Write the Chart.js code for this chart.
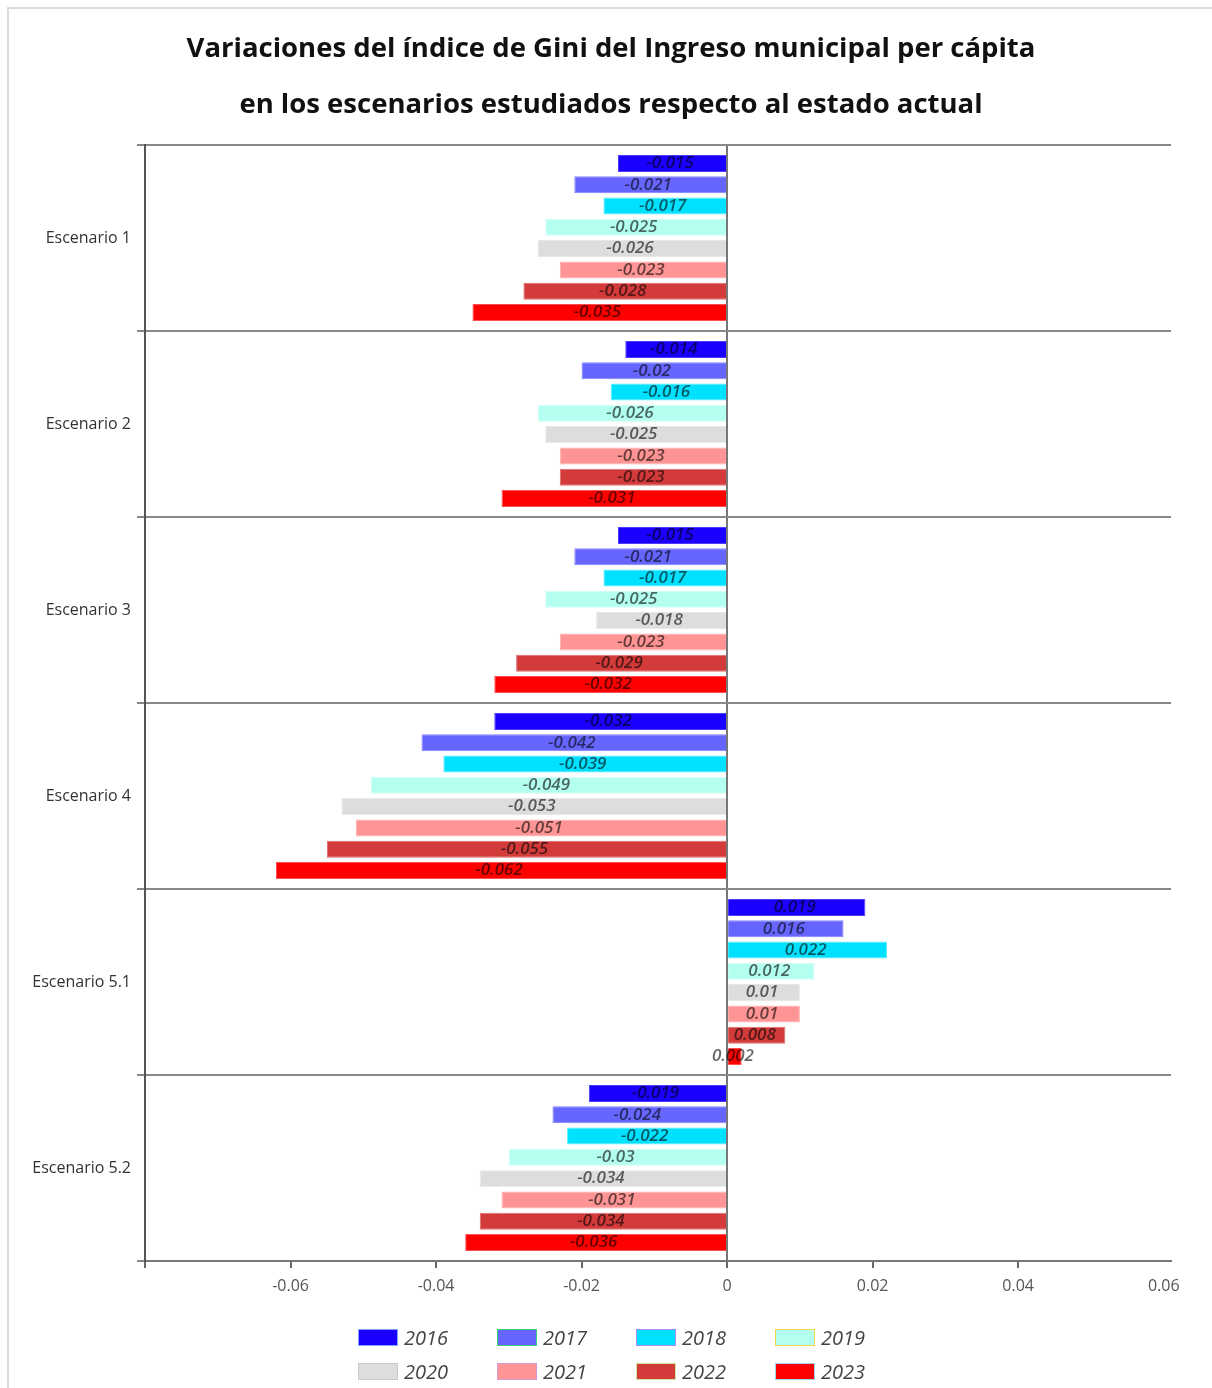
<!DOCTYPE html>
<html lang="es">
<head>
<meta charset="utf-8">
<title>Variaciones del índice de Gini</title>
<script src="https://cdn.jsdelivr.net/npm/chart.js@4/dist/chart.umd.min.js"></script>
<style>
  html, body { margin: 0; padding: 0; background: #fff; }
  body { width: 1212px; height: 1388px; position: relative; overflow: hidden; font-family: "Open Sans", sans-serif; }
  #frame { position: absolute; left: 7px; top: 7px; width: 1240px; height: 1420px; border-top: 2px solid #dcdcdc; border-left: 2px solid #dcdcdc; }
  #chart { position: absolute; left: 0; top: 0; }
  #legend { position: absolute; left: 358px; top: 1327px; display: grid; grid-template-columns: repeat(4, 139px); row-gap: 14px; }
  .item { display: flex; align-items: center; height: 20px; }
  .box { width: 38px; height: 15px; border: 1px solid; margin-right: 6px; }
  .lbl { font-style: italic; font-size: 20px; color: #444; }
</style>
</head>
<body>
<div id="frame"></div>
<canvas id="chart" width="1212" height="1388"></canvas>
<div id="legend"></div>
<script>
// Scenarios on the vertical axis
const categories = ['Escenario 1', 'Escenario 2', 'Escenario 3', 'Escenario 4', 'Escenario 5.1', 'Escenario 5.2'];

// Change of the Gini index per year, one value per scenario
const years = ['2016', '2017', '2018', '2019', '2020', '2021', '2022', '2023'];
const v2016 = [-0.015, -0.014, -0.015, -0.032, 0.019, -0.019];
const v2017 = [-0.021, -0.02, -0.021, -0.042, 0.016, -0.024];
const v2018 = [-0.017, -0.016, -0.017, -0.039, 0.022, -0.022];
const v2019 = [-0.025, -0.026, -0.025, -0.049, 0.012, -0.03];
const v2020 = [-0.026, -0.025, -0.018, -0.053, 0.01, -0.034];
const v2021 = [-0.023, -0.023, -0.023, -0.051, 0.01, -0.031];
const v2022 = [-0.028, -0.023, -0.029, -0.055, 0.008, -0.034];
const v2023 = [-0.035, -0.031, -0.032, -0.062, 0.002, -0.036];
const seriesValues = [v2016, v2017, v2018, v2019, v2020, v2021, v2022, v2023];

// Horizontal axis ticks that carry a label
const xTicks = [-0.06, -0.04, -0.02, 0, 0.02, 0.04, 0.06];

const fills = ['#1a00ff', '#6666ff', '#00e1ff', '#b3fff0', '#dddddd', '#ff9494', '#d33a3a', '#ff0000'];
const edges = ['#7da7ff', '#3ccf7a', '#b388ff', '#f2d44f', '#c8c8c8', '#d39ad8', '#c9e69a', '#9ed6e8'];
const barEdges = ['#4a3dff', '#8080ff', '#5aeaff', '#d0fff6', '#e6e6e6', '#ffb0b0', '#e06a6a', '#ff5050'];

const datasets = years.map((y, i) => ({
  label: y,
  data: seriesValues[i],
  backgroundColor: fills[i],
  borderColor: barEdges[i],
  borderWidth: 1,
  categoryPercentage: 0.915,
  barPercentage: 0.8
}));

// Value written at the middle of each bar
const valueLabels = {
  id: 'valueLabels',
  afterDatasetsDraw(chart) {
    const ctx = chart.ctx;
    ctx.save();
    ctx.font = 'italic 600 17px "Open Sans"';
    ctx.fillStyle = 'rgba(0,0,0,0.6)';
    ctx.textAlign = 'center';
    ctx.textBaseline = 'middle';
    chart.data.datasets.forEach((ds, i) => {
      const meta = chart.getDatasetMeta(i);
      meta.data.forEach((bar, j) => {
        const p = bar.getProps(['x', 'y', 'base'], true);
        ctx.fillText(String(ds.data[j]), (p.x + p.base) / 2 - 2, p.y);
      });
    });
    ctx.restore();
  }
};

const chart = new Chart(document.getElementById('chart'), {
  type: 'bar',
  data: { labels: categories, datasets },
  plugins: [valueLabels],
  options: {
    indexAxis: 'y',
    responsive: false,
    animation: false,
    layout: { padding: { left: 10, right: 0, top: 0, bottom: 77 } },
    plugins: {
      legend: { display: false },
      tooltip: { enabled: false },
      title: {
        display: true,
        text: ['Variaciones del índice de Gini del Ingreso municipal per cápita',
               'en los escenarios estudiados respecto al estado actual'],
        color: '#111',
        font: { family: '"Open Sans"', size: 27.5, weight: 'bold', lineHeight: 2.036 },
        padding: { top: 21, bottom: 12 }
      }
    },
    scales: {
      x: {
        min: -0.08,
        max: 0.061,
        bounds: 'data',
        afterBuildTicks(scale) {
          scale.ticks = scale.ticks.filter(t => t.value <= 0.0601);
        },
        afterFit(scale) { scale.height = 50; },
        ticks: {
          stepSize: 0.02,
          includeBounds: false,
          color: '#555',
          padding: 9,
          font: { family: '"Open Sans"', size: 16 },
          callback(value) {
            const v = Math.round(value * 100) / 100;
            return xTicks.includes(v) ? String(v) : '';
          }
        },
        grid: {
          color: ctx => (ctx.tick && Math.abs(ctx.tick.value) < 1e-9 ? '#777' : 'rgba(0,0,0,0)'),
          lineWidth: 2,
          tickColor: ctx => (ctx.tick && ctx.tick.value > 0.05 ? 'rgba(0,0,0,0)' : '#666'),
          tickLength: 7
        },
        border: { display: true, color: '#777', width: 2 }
      },
      y: {
        afterFit(scale) { scale.width = 135; },
        ticks: {
          color: '#333',
          padding: 6,
          font: { family: '"Open Sans"', size: 16 }
        },
        grid: {
          offset: true,
          color: '#888',
          lineWidth: 2,
          tickLength: 8
        },
        border: { display: true, color: '#555', width: 2 }
      },
      // empty band on the right that keeps the plot clear of the edge
      yRight: {
        type: 'category',
        position: 'right',
        labels: categories,
        afterFit(scale) { scale.width = 41; },
        ticks: { display: false },
        grid: { display: false },
        border: { display: false }
      }
    }
  }
});

// Legend laid out in two rows of four
const legend = document.getElementById('legend');
chart.data.datasets.forEach((ds, i) => {
  const item = document.createElement('div');
  item.className = 'item';
  const box = document.createElement('span');
  box.className = 'box';
  box.style.background = ds.backgroundColor;
  box.style.borderColor = edges[i];
  const lbl = document.createElement('span');
  lbl.className = 'lbl';
  lbl.textContent = ds.label;
  item.appendChild(box);
  item.appendChild(lbl);
  legend.appendChild(item);
});
</script>
</body>
</html>
